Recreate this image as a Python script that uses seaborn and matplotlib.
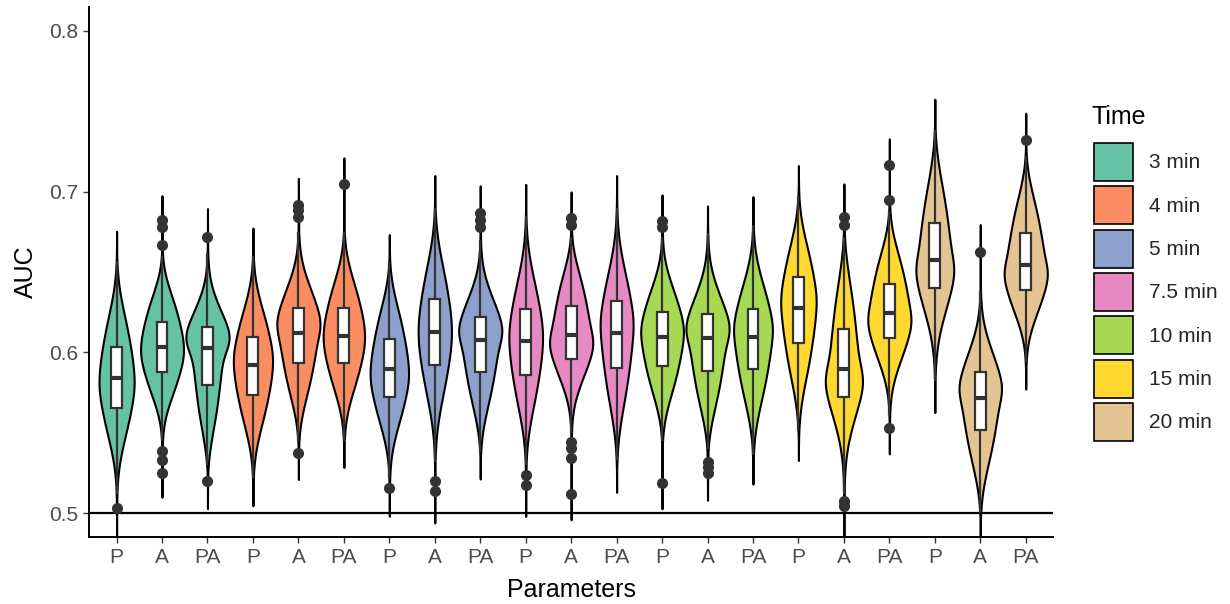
import numpy as np
import pandas as pd
import matplotlib
matplotlib.use("Agg")
import matplotlib.pyplot as plt
import seaborn as sns
from matplotlib.patches import Patch
from statistics import NormalDist

times = ["3 min", "4 min", "5 min", "7.5 min", "10 min", "15 min", "20 min"]
params = ["P", "A", "PA"]
colors = ["#66C2A5", "#FC8D62", "#8DA0CB", "#E78AC3", "#A6D854", "#FFD92F", "#E5C494"]

# Summary values, one entry per violin (P, A, PA for each time)
q1 = [0.5653, 0.5880, 0.5798, 0.5735, 0.5932, 0.5932, 0.5721, 0.5922, 0.5880,
      0.5864, 0.5963, 0.5901, 0.5918, 0.5885, 0.5895, 0.6061, 0.5725, 0.6088,
      0.6399, 0.5518, 0.6388]
median = [0.5839, 0.6032, 0.6026, 0.5922, 0.6123, 0.6102, 0.5895, 0.6129, 0.6077,
          0.6071, 0.6108, 0.6123, 0.6094, 0.6088, 0.6094, 0.6274, 0.5895, 0.6243,
          0.6575, 0.5719, 0.6543]
q3 = [0.6036, 0.6191, 0.6160, 0.6098, 0.6274, 0.6274, 0.6082, 0.6336, 0.6222,
      0.6268, 0.6289, 0.6320, 0.6253, 0.6237, 0.6268, 0.6467, 0.6144, 0.6424,
      0.6803, 0.5876, 0.6740]
whisker_low = [0.512, 0.545, 0.530, 0.522, 0.545, 0.545, 0.522, 0.532, 0.538,
               0.530, 0.550, 0.533, 0.545, 0.540, 0.536, 0.552, 0.512, 0.561,
               0.582, 0.500, 0.594]
whisker_high = [0.657, 0.660, 0.662, 0.660, 0.675, 0.675, 0.656, 0.690, 0.670,
                0.685, 0.672, 0.690, 0.672, 0.674, 0.679, 0.697, 0.672, 0.688,
                0.738, 0.638, 0.722]
outliers = [
    [0.5031],
    [0.5252, 0.5331, 0.5390, 0.6665, 0.6778, 0.6822],
    [0.5203, 0.6720],
    [],
    [0.5377, 0.6840, 0.6885, 0.6916],
    [0.7045],
    [0.5155],
    [0.5140, 0.5203],
    [0.6778, 0.6823, 0.6869],
    [0.5176, 0.5238],
    [0.5120, 0.5342, 0.5404, 0.5445, 0.6795, 0.6838],
    [],
    [0.5190, 0.6780, 0.6817],
    [0.5252, 0.5290, 0.5321],
    [],
    [],
    [0.5045, 0.5078, 0.6790, 0.6844],
    [0.5532, 0.6948, 0.7165],
    [],
    [0.6622],
    [0.7320],
]

# Deterministic sample per violin whose quartiles / whisker ends match the values above
nd = NormalDist()
n = 1000
p = (np.arange(n) + 0.5) / n
z = np.array([nd.inv_cdf(v) for v in p])
zq = nd.inv_cdf(0.75)
zmax = z[-1]
L = zmax - zq


def half(zz, center, quart, end):
    """Map |z| to values on one side of the median: linear in the box,
    smooth (slope-matched quadratic) in the tail out to the whisker end."""
    a = (quart - center) / zq
    b = ((end - quart) - a * L) / L ** 2
    inner = center + a * zz
    t = np.clip(zz - zq, 0, None)
    tail = quart + a * t + b * t ** 2
    return np.where(zz <= zq, inner, tail)


rows = []
cats = []
for ti, t in enumerate(times):
    for pi, pa in enumerate(params):
        k = ti * 3 + pi
        cat = f"{t}|{pa}"
        cats.append(cat)
        up = half(np.abs(z), median[k], q3[k], whisker_high[k])
        lo = half(np.abs(z), median[k], q1[k], whisker_low[k])
        vals = np.where(z >= 0, up, lo)
        vals = np.concatenate([vals, np.array(outliers[k], dtype=float)])
        for v in vals:
            rows.append((cat, t, pa, v))
df = pd.DataFrame(rows, columns=["cat", "Time", "Parameters", "AUC"])

sns.set_theme(style="white")
plt.rcParams["font.family"] = ["Liberation Sans", "DejaVu Sans"]

W, H = 1230, 604
fig = plt.figure(figsize=(W / 100, H / 100), dpi=100)
ax = fig.add_axes([89.3 / W, 1 - 536.7 / H, (1053 - 89.3) / W, (536.7 - 7) / H])

sns.violinplot(data=df, x="cat", y="AUC", hue="Time", order=cats, hue_order=times,
               palette=colors, dodge=False, inner=None, cut=2.6, bw_adjust=1.05,
               density_norm="area", width=0.95, linecolor="black", linewidth=1.5,
               saturation=1, legend=False, ax=ax)
ax.axhline(0.5, color="black", lw=1.6, zorder=1.5)
sns.boxplot(data=df, x="cat", y="AUC", order=cats, width=0.24, color="white",
            linecolor="#333333", linewidth=1.6, saturation=1, showcaps=False,
            flierprops=dict(marker="o", markerfacecolor="#333333",
                            markeredgecolor="#333333", markersize=7),
            medianprops=dict(linewidth=3, color="#333333"), ax=ax)

ax.set_xlim(-0.6, 20.6)
ax.set_ylim(0.4855, 0.8147)
ax.set_yticks([0.5, 0.6, 0.7, 0.8])
ax.set_yticklabels(["0.5", "0.6", "0.7", "0.8"])
ax.set_xticks(range(len(cats)))
ax.set_xticklabels([c.split("|")[1] for c in cats])
for s in ["top", "right"]:
    ax.spines[s].set_visible(False)
for s in ["left", "bottom"]:
    ax.spines[s].set_color("black")
    ax.spines[s].set_linewidth(1.4)
ax.tick_params(axis="both", which="major", length=4.3, width=1.0, color="#333333",
               labelsize=15, labelcolor="#4D4D4D", pad=3.5, bottom=True, left=True)
ax.set_xlabel("Parameters", fontsize=18, color="black", labelpad=8)
ax.set_ylabel("AUC", fontsize=18, color="black", labelpad=8)

fig.text(1092 / W, 1 - 117 / H, "Time", fontsize=18, color="black",
         ha="left", va="center")
handles = [Patch(facecolor=c, edgecolor="black", linewidth=1.2, label=t)
           for c, t in zip(colors, times)]
fig.legend(handles=handles, loc="upper left",
           bbox_to_anchor=(1094 / W, 1 - 143 / H), frameon=False, fontsize=15,
           handlelength=1.88, handleheight=2.43, labelspacing=0.255,
           handletextpad=0.77, borderpad=0, borderaxespad=0)

fig.savefig("out.png", dpi=100)
